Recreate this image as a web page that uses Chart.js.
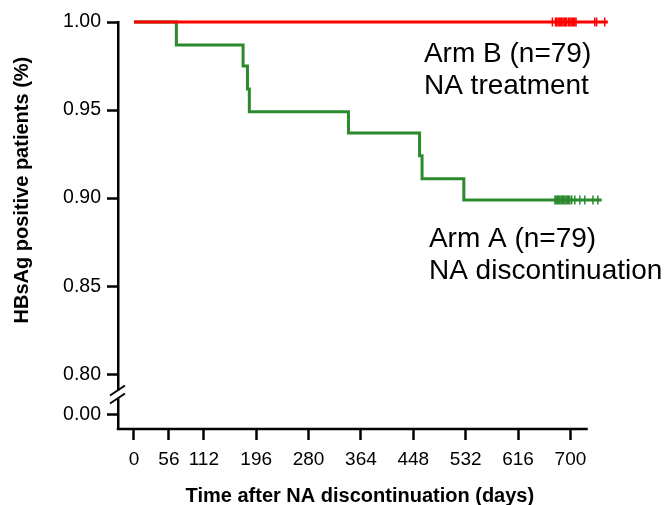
<!DOCTYPE html>
<html>
<head>
<meta charset="utf-8">
<script src="https://cdn.jsdelivr.net/npm/chart.js@4/dist/chart.umd.min.js"></script>
<style>
  html, body { margin: 0; padding: 0; background: #fff; }
  #wrap { width: 667px; height: 505px; position: relative; }
</style>
</head>
<body>
<div id="wrap"><canvas id="c" width="667" height="505"></canvas></div>
<script>
// ---- data ----
const xTickValues = [0, 56, 112, 196, 280, 364, 448, 532, 616, 700];
const xAxisEnd = 727.7;      // the drawn x axis line stops here (days)
const yTickValues = [0.80, 0.85, 0.90, 0.95, 1.00];
const yBreakLabel = '0.00';
const yBreakValue = 0.777;   // where the "0.00" tick sits below the axis break

// Arm A: NA discontinuation (Kaplan-Meier steps)
const armATimes  = [0, 68, 175, 182, 185, 344, 458, 462, 529, 750];
const armAValues = [1.000, 0.987, 0.975, 0.962, 0.949, 0.937, 0.924, 0.911, 0.899, 0.899];
const armACensorTimes = [675, 677, 679, 681, 683, 685, 687, 689, 691, 693, 695, 697, 699, 702, 707, 715, 723, 736, 744];

// Arm B: NA treatment
const armBTimes  = [0, 760];
const armBValues = [1.000, 1.000];
const armBCensorTimes = [671, 676, 678, 680, 682, 684, 686, 688, 690, 692, 694, 697, 699, 701, 703, 705, 707, 709, 739, 742, 755];

const labelB = ['Arm B (n=79)', 'NA treatment'];
const labelA = ['Arm A (n=79)', 'NA discontinuation'];
const xTitle = 'Time after NA discontinuation (days)';
const yTitle = 'HBsAg positive patients (%)';

const RED = '#ff0000';
const GREEN = '#2b8a2b';
const FONT = "'Liberation Sans', Arial, Helvetica, sans-serif";

const toPts = (xs, ys) => xs.map((x, i) => ({ x, y: ys[i] }));
const censorPts = (xs, v) => xs.map(x => ({ x, y: v }));

const decorPlugin = {
  id: 'decor',
  afterDraw(chart) {
    const ctx = chart.ctx;
    const xs = chart.scales.x, ys = chart.scales.y;
    const ax = chart.chartArea.left;
    const ay = chart.chartArea.bottom;
    ctx.save();
    // x axis line
    ctx.strokeStyle = '#000';
    ctx.lineWidth = 2.5;
    ctx.beginPath();
    ctx.moveTo(ax - 1.25, ay);
    ctx.lineTo(xs.getPixelForValue(xAxisEnd), ay);
    ctx.stroke();
    // axis break
    const yb = (ys.getPixelForValue(yTickValues[0]) + ys.getPixelForValue(yBreakValue)) / 2;
    ctx.fillStyle = '#fff';
    ctx.fillRect(ax - 3, yb - 4, 6, 8);
    ctx.lineWidth = 2;
    [-4, 4].forEach(o => {
      ctx.beginPath();
      ctx.moveTo(ax - 8, yb + o + 5);
      ctx.lineTo(ax + 7, yb + o - 5);
      ctx.stroke();
    });
    ctx.restore();

    // group labels
    ctx.save();
    ctx.fillStyle = '#000';
    ctx.font = '28px ' + FONT;
    ctx.textAlign = 'left';
    ctx.textBaseline = 'alphabetic';
    const bx = xs.getPixelForValue(465);
    ctx.fillText(labelB[0], bx, 62);
    ctx.fillText(labelB[1], bx, 94);
    const axx = xs.getPixelForValue(473);
    ctx.fillText(labelA[0], axx, 247);
    ctx.fillText(labelA[1], axx, 279);

    // axis titles
    ctx.font = 'bold 20px ' + FONT;
    ctx.textAlign = 'center';
    ctx.fillText(xTitle, (ax + xs.getPixelForValue(xAxisEnd)) / 2 + 7, 502);
    ctx.translate(22, ys.getPixelForValue(0.90) - 8);
    ctx.rotate(-Math.PI / 2);
    ctx.textBaseline = 'middle';
    ctx.fillText(yTitle, 0, 0);
    ctx.restore();
  }
};

new Chart(document.getElementById('c'), {
  type: 'line',
  data: {
    datasets: [
      { data: toPts(armATimes, armAValues), borderColor: GREEN, borderWidth: 3, stepped: true, pointRadius: 0, clip: false, order: 4 },
      { type: 'scatter', data: censorPts(armACensorTimes, armAValues[armAValues.length - 1]), borderColor: GREEN, backgroundColor: GREEN,
        pointStyle: 'line', rotation: 90, pointRadius: 4.5, pointBorderWidth: 1.5, showLine: false, clip: false, order: 3 },
      { data: toPts(armBTimes, armBValues), borderColor: RED, borderWidth: 3, stepped: true, pointRadius: 0, clip: false, order: 2 },
      { type: 'scatter', data: censorPts(armBCensorTimes, armBValues[armBValues.length - 1]), borderColor: RED, backgroundColor: RED,
        pointStyle: 'line', rotation: 90, pointRadius: 4.5, pointBorderWidth: 1.5, showLine: false, clip: false, order: 1 }
    ]
  },
  options: {
    responsive: false,
    animation: false,
    devicePixelRatio: 1,
    layout: { padding: { left: 0, top: 22, right: 56, bottom: 0 } },
    plugins: { legend: { display: false }, tooltip: { enabled: false } },
    scales: {
      x: {
        type: 'linear',
        min: -25.6,
        max: 765,
        afterBuildTicks: s => { s.ticks = xTickValues.map(v => ({ value: v })); },
        afterFit: s => { s.height = 76; },
        ticks: { color: '#000', font: { size: 19, family: FONT }, padding: 8, maxRotation: 0, autoSkip: false },
        grid: { drawOnChartArea: false, drawTicks: true, tickLength: 11, tickWidth: 2.5, tickColor: '#000' },
        border: { display: false }
      },
      y: {
        type: 'linear',
        min: 0.7689,
        max: 1.0,
        afterBuildTicks: s => { s.ticks = [yBreakValue].concat(yTickValues).map(v => ({ value: v })); },
        afterFit: s => { s.width = 118; },
        ticks: {
          color: '#000', font: { size: 19.5, family: FONT }, padding: 6, autoSkip: false,
          callback: v => (v < yTickValues[0] - 0.01 ? yBreakLabel : Number(v).toFixed(2))
        },
        grid: { drawOnChartArea: false, drawTicks: true, tickLength: 11, tickWidth: 2.5, tickColor: '#000' },
        border: { display: true, color: '#000', width: 2.5 }
      }
    }
  },
  plugins: [decorPlugin]
});
</script>
</body>
</html>
